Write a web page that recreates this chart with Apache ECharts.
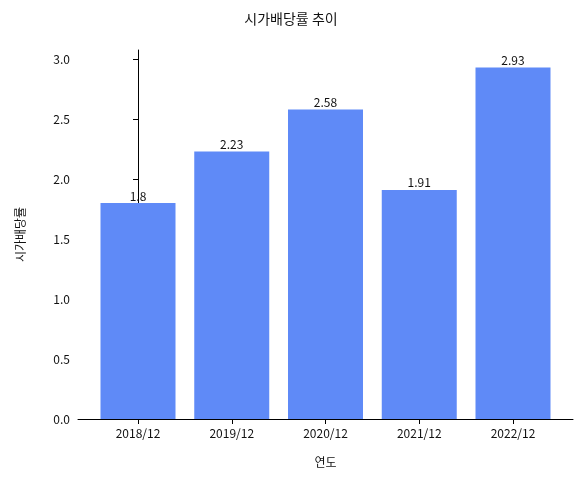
<!DOCTYPE html>
<html><head><meta charset="utf-8">
<script src="https://cdn.jsdelivr.net/npm/echarts@6/dist/echarts.min.js"></script>
<style>html,body{margin:0;padding:0;background:#fff}#c{width:582px;height:479px}</style>
</head><body><div id="c"></div>
<script>
var years = ['2018/12','2019/12','2020/12','2021/12','2022/12'];
var yields = [1.8, 2.23, 2.58, 1.91, 2.93];

var font = '"Noto Sans CJK KR", "Noto Sans", sans-serif';
var chart = echarts.init(document.getElementById('c'));
chart.setOption({
    textStyle: {fontFamily: font},
    title: {text: '시가배당률 추이', left: 'center', top: 7,
        textStyle: {fontFamily: font, fontSize: 14, fontWeight: 'normal', color: '#111'}},
    grid: {left: 78, right: 9, top: 50, bottom: 60},
    xAxis: {
        type: 'value', min: -0.64, max: 4.64,
        name: '연도', nameLocation: 'middle', nameGap: 37,
        nameTextStyle: {fontSize: 12, color: '#111'},
        splitLine: {show: false},
        axisLine: {lineStyle: {color: '#000'}},
        axisTick: {customValues: [0,1,2,3,4], lineStyle: {color: '#000'}},
        axisLabel: {customValues: [0,1,2,3,4], color: '#111', fontSize: 12,
            formatter: function(v){ return years[Math.round(v)]; }}
    },
    yAxis: {
        type: 'value', min: 0, max: 3.0765, interval: 0.5,
        name: '시가배당률', nameLocation: 'middle', nameGap: 52,
        nameTextStyle: {fontSize: 12, color: '#111'},
        splitLine: {show: false},
        axisLine: {show: true, lineStyle: {color: '#000'}},
        axisTick: {show: true, lineStyle: {color: '#000'}},
        axisLabel: {color: '#111', fontSize: 12, showMaxLabel: false,
            formatter: function(v){ return v.toFixed(1); }}
    },
    series: [{
        type: 'bar', barWidth: 75,
        data: yields.map(function(v, i){ return [i, v]; }),
        itemStyle: {color: '#5f8af7'},
        label: {show: true, position: 'top', distance: 1, color: '#111', fontSize: 12,
            formatter: function(p){ return String(p.value[1]); }}
    }]
});
</script></body></html>
